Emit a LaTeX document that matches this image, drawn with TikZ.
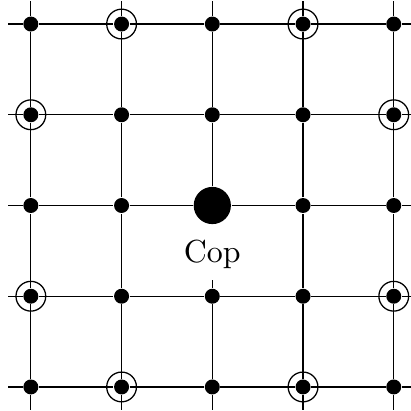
\documentclass[tikz,border=0pt]{standalone}
\usetikzlibrary{positioning}

\tikzset{
  vertex/.style={circle, fill=black, inner sep=0pt, minimum size=0.165cm},
  copvertex/.style={circle, fill=black, inner sep=0pt, minimum size=0.41cm},
}

\begin{document}
\begin{tikzpicture}
    \useasboundingbox (-0.34,-0.265) rectangle (4.18,4.265);

    % Grid vertices and free line ends
    \foreach \i in {0,...,4} {
      \coordinate (w\i) at (-0.25,\i);
      \coordinate (e\i) at (4.25,\i);
      \coordinate (s\i) at (\i,-0.25);
      \coordinate (n\i) at (\i,4.25);
      \foreach \j in {0,...,4}
        \node[vertex] (v\i\j) at (\i,\j) {};
    }

    % Cop in the middle
    \node[copvertex] (cop) at (v22) {};
    \node[below=1.4pt of cop] (coplabel) {Cop};

    % Rows
    \foreach \j in {0,1,3,4}
      \draw (w\j) -- (v0\j) -- (v1\j) -- (v2\j) -- (v3\j) -- (v4\j) -- (e\j);
    \draw (w2) -- (v02) -- (v12) -- (cop) -- (v32) -- (v42) -- (e2);

    % Columns
    \foreach \i in {0,1,3,4}
      \draw (s\i) -- (v\i0) -- (v\i1) -- (v\i2) -- (v\i3) -- (v\i4) -- (n\i);
    \draw (s2) -- (v20) -- (v21) -- (coplabel);
    \draw (cop) -- (v23) -- (v24) -- (n2);

    % Knight-move vertices
    \foreach \p in {14,34,03,43,01,41,10,30}
      \draw (v\p) circle (0.164cm);

\end{tikzpicture}
\end{document}
